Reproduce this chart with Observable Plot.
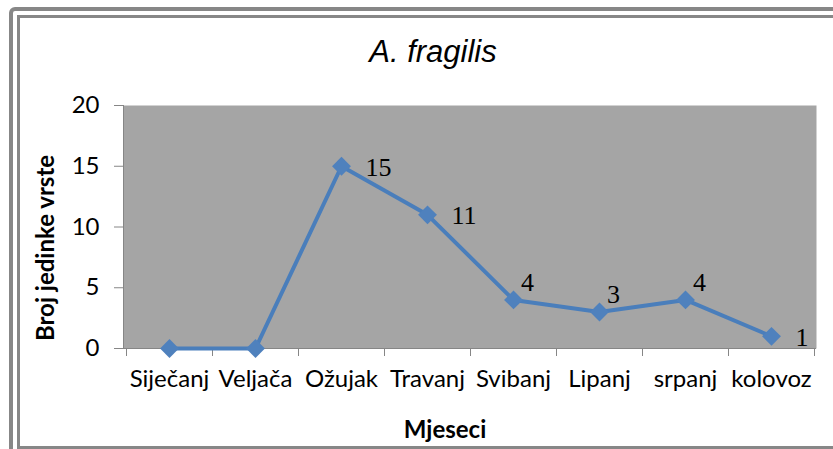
<!DOCTYPE html>
<html>
<head>
<meta charset="utf-8">
<script src="https://cdn.jsdelivr.net/npm/d3@7"></script>
<script src="https://cdn.jsdelivr.net/npm/@observablehq/plot@0.6"></script>
<style>
  html, body { margin: 0; padding: 0; background: #fff; }
  #wrap { position: relative; width: 833px; height: 449px; overflow: hidden; background: #fff; }
  #wrap svg { position: absolute; left: 0; top: 0; }
  .b1 { position: absolute; left: 9px; top: 7px; right: -30px; bottom: -30px; border: 4px solid #878787; border-radius: 6px; }
  .b2 { position: absolute; left: 17px; top: 15px; right: -30px; bottom: 0px; border: 3px solid #878787; }
</style>
</head>
<body>
<div id="wrap"><div class="b1"></div><div class="b2"></div></div>
<script>
const months = ["Siječanj", "Veljača", "Ožujak", "Travanj", "Svibanj", "Lipanj", "srpanj", "kolovoz"];
const counts = [0, 0, 15, 11, 4, 3, 4, 1];
const yTicks = [0, 5, 10, 15, 20];
const labelRight = ["Ožujak", "Travanj", "kolovoz"];
const labelAbove = ["Svibanj", "Lipanj", "srpanj"];
const title = "A. fragilis";
const yTitle = "Broj jedinke vrste";
const xTitle = "Mjeseci";

const data = months.map((m, i) => ({month: m, value: counts[i]}));

const sans = "Lato, 'Open Sans', sans-serif";
const axisColor = "#868686";

// ticks at category boundaries + axis lines, derived from the x scale
function axisLines(index, scales, values, dimensions) {
  const {width, height, marginLeft, marginRight, marginTop, marginBottom} = dimensions;
  const x = scales.x;
  const p0 = x(months[0]), p1 = x(months[1]);
  const step = p1 - p0;
  const y0 = height - marginBottom;
  const g = d3.create("svg:g").attr("stroke", axisColor).attr("stroke-width", 1);
  for (let i = 0; i <= months.length; i++) {
    const bx = Math.round(p0 - step / 2 + i * step) + 0.5;
    g.append("line").attr("x1", bx).attr("x2", bx).attr("y1", y0).attr("y2", y0 + 8);
  }
  g.append("line").attr("x1", marginLeft + 0.5).attr("x2", marginLeft + 0.5)
    .attr("y1", marginTop).attr("y2", y0);
  g.append("line").attr("x1", marginLeft).attr("x2", width - marginRight)
    .attr("y1", y0 + 0.5).attr("y2", y0 + 0.5);
  return g.node();
}

const chart = Plot.plot({
  width: 833,
  height: 449,
  marginLeft: 123,
  marginRight: 17,
  marginTop: 105,
  marginBottom: 101,
  style: {fontFamily: sans, fontSize: "24px", color: "#000", background: "transparent"},
  x: {type: "point", domain: months, padding: 0.5, axis: null},
  y: {domain: [0, 20], axis: null},
  marks: [
    Plot.frame({fill: "#a5a5a5", stroke: null}),
    axisLines,
    Plot.axisY({ticks: yTicks, label: null, tickSize: 9, tickPadding: 15, stroke: axisColor, fontSize: 24, fill: "#000", tickFormat: d => String(d)}),
    Plot.axisX({label: null, tickSize: 0, tickPadding: 21, fontSize: 24, fill: "#000"}),
    Plot.line(data, {x: "month", y: "value", stroke: "#4a7ebb", strokeWidth: 4}),
    Plot.dot(data, {x: "month", y: "value", symbol: "diamond2", r: 8.5, fill: "#4f81bd", stroke: null}),
    Plot.text(data.filter(d => labelRight.includes(d.month)), {x: "month", y: "value", text: d => String(d.value), textAnchor: "start", dx: 24, dy: 1, fontFamily: "'Liberation Serif', serif", fontSize: 26, fill: "#000"}),
    Plot.text(data.filter(d => labelAbove.includes(d.month)), {x: "month", y: "value", text: d => String(d.value), textAnchor: "middle", dx: 14, dy: -17, fontFamily: "'Liberation Serif', serif", fontSize: 26, fill: "#000"}),
    Plot.text([title], {frameAnchor: "top", dx: -37, dy: -53, lineAnchor: "middle", fontFamily: "'Liberation Sans', Arial, sans-serif", fontStyle: "italic", fontSize: 31, fill: "#000"}),
    Plot.text([yTitle], {frameAnchor: "left", dx: -77, dy: 21, rotate: -90, lineAnchor: "middle", textAnchor: "middle", fontWeight: "bold", fontSize: 24, fill: "#000"}),
    Plot.text([xTitle], {frameAnchor: "bottom", dx: -25, dy: 82, lineAnchor: "middle", fontWeight: "bold", fontSize: 24, fill: "#000"})
  ]
});

document.getElementById("wrap").prepend(chart);
</script>
</body>
</html>
